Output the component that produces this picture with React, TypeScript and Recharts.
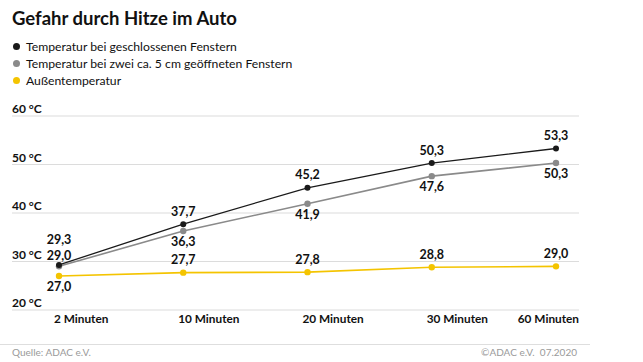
import React from 'react';
import { LineChart, Line, XAxis, YAxis, CartesianGrid, LabelList } from 'recharts';

const categories = ['2 Minuten', '10 Minuten', '20 Minuten', '30 Minuten', '60 Minuten'];
const closedWindows = [29.3, 37.7, 45.2, 50.3, 53.3];
const openWindows = [29.0, 36.3, 41.9, 47.6, 50.3];
const outside = [27.0, 27.7, 27.8, 28.8, 29.0];
const yTicks = [20, 30, 40, 50, 60];

const seriesInfo = [
  { key: 'closed', name: 'Temperatur bei geschlossenen Fenstern', color: '#1a1a1a' },
  { key: 'open', name: 'Temperatur bei zwei ca. 5 cm geöffneten Fenstern', color: '#8a8a8a' },
  { key: 'outside', name: 'Außentemperatur', color: '#f4c400' },
];

const data = categories.map((c, i) => ({
  name: c,
  closed: closedWindows[i],
  open: openWindows[i],
  outside: outside[i],
}));

const FONT = 'Lato, "Open Sans", sans-serif';
const PLOT_RIGHT = 579;
const fmt = (v: number) => v.toFixed(1).replace('.', ',');

// label placement per series: above / below, the crowded first point gets stacked labels
const makeLabel = (series: string) => (props: any) => {
  const { x, y, value, index } = props;
  let dy = -11.5;
  if (series === 'closed' && index === 0) dy = -24;
  if (series === 'open' && index === 0) dy = -10;
  if (series === 'open' && index > 0) dy = 12;
  if (series === 'outside' && index === 0) dy = 12;
  return (
    <text x={x} y={y + dy} textAnchor="middle" fontFamily={FONT} fontWeight={700}
      fontSize={12.5} fill="#111" dominantBaseline="middle">
      {fmt(value)}
    </text>
  );
};

const renderYTick = (props: any) => {
  const { y, payload } = props;
  return (
    <text key={payload.value} x={12} y={y - 3} fontFamily={FONT} fontWeight={700} fontSize={12} fill="#111">
      {payload.value} °C
    </text>
  );
};

// x labels start just left of the point; the last one is pushed back inside the plot
const renderXTick = (props: any) => {
  const { x, payload, index } = props;
  const last = index === categories.length - 1;
  return (
    <text key={payload.value} x={last ? PLOT_RIGHT : x - 5} y={320} textAnchor={last ? 'end' : 'start'}
      dominantBaseline="middle" fontFamily={FONT} fontWeight={700} fontSize={11.8} fill="#111">
      {payload.value}
    </text>
  );
};

export default function App() {
  return (
    <div style={{ position: 'absolute', left: 0, top: 0, width: 643, height: 362, background: '#fff', fontFamily: FONT }}>
      <div style={{ position: 'absolute', left: 12, top: 9, fontSize: 18.5, lineHeight: '19px', fontWeight: 700, color: '#111' }}>
        Gefahr durch Hitze im Auto
      </div>
      <div style={{ position: 'absolute', left: 10, top: 38 }}>
        {seriesInfo.map((s) => (
          <div key={s.key} style={{ display: 'flex', alignItems: 'center', height: 17, fontSize: 12.2, color: '#111' }}>
            <span style={{ width: 7, height: 7, borderRadius: 4, background: s.color, display: 'inline-block', marginLeft: 3, marginRight: 6 }} />
            {s.name}
          </div>
        ))}
      </div>
      <LineChart width={643} height={362} data={data} margin={{ top: 116, right: 643 - PLOT_RIGHT, bottom: 22, left: 11 }}>
        <CartesianGrid vertical={false} stroke="#dcdcdc" strokeWidth={1.2} />
        <XAxis dataKey="name" axisLine={false} tickLine={false} height={30} padding={{ left: 47, right: 23 }} tick={renderXTick} interval={0} />
        <YAxis domain={[20, 60]} ticks={yTicks} width={1} axisLine={false} tickLine={false} tick={renderYTick} interval={0} />
        <Line dataKey="outside" stroke={seriesInfo[2].color} strokeWidth={1.6} dot={{ r: 3.2, fill: seriesInfo[2].color, stroke: 'none' }} isAnimationActive={false}>
          <LabelList dataKey="outside" content={makeLabel('outside')} />
        </Line>
        <Line dataKey="open" stroke={seriesInfo[1].color} strokeWidth={1.6} dot={{ r: 3.2, fill: seriesInfo[1].color, stroke: 'none' }} isAnimationActive={false}>
          <LabelList dataKey="open" content={makeLabel('open')} />
        </Line>
        <Line dataKey="closed" stroke={seriesInfo[0].color} strokeWidth={1.3} dot={{ r: 3, fill: seriesInfo[0].color, stroke: 'none' }} isAnimationActive={false}>
          <LabelList dataKey="closed" content={makeLabel('closed')} />
        </Line>
      </LineChart>
      <div style={{ position: 'absolute', left: 0, top: 344, width: 590, borderTop: '1px solid #dedede' }} />
      <div style={{ position: 'absolute', left: 12, top: 346, fontSize: 10, color: '#9a9a9a' }}>Quelle: ADAC e.V.</div>
      <div style={{ position: 'absolute', right: 66, top: 346, fontSize: 10, color: '#9a9a9a' }}>©ADAC e.V.&nbsp;&nbsp;07.2020</div>
    </div>
  );
}
